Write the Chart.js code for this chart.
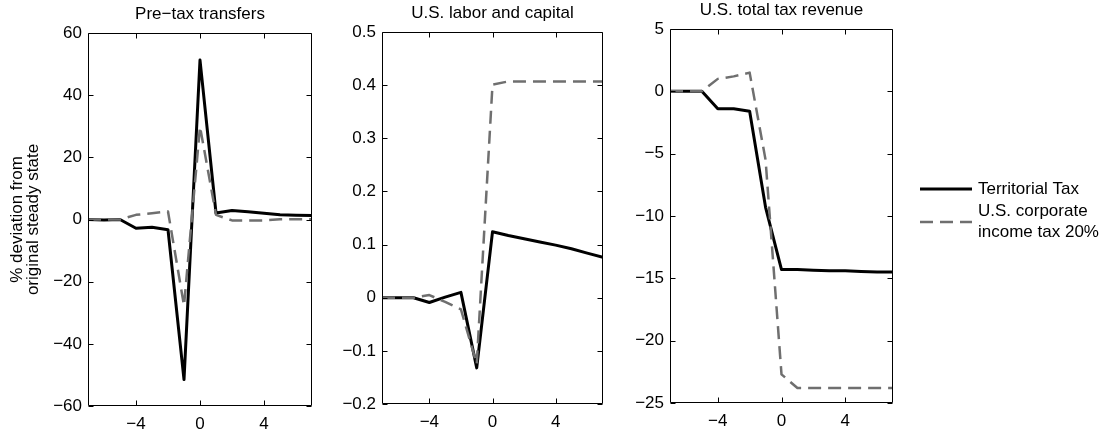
<!DOCTYPE html>
<html>
<head>
<meta charset="utf-8">
<script src="https://cdn.jsdelivr.net/npm/chart.js@4.4.1/dist/chart.umd.min.js"></script>
<style>
  html, body { margin: 0; padding: 0; background: #fff; }
  #wrap { position: relative; width: 1107px; height: 434px; overflow: hidden; background: #fff; }
  #wrap canvas { position: absolute; top: 0; }
</style>
</head>
<body>
<div id="wrap">
  <canvas id="transfers" width="330" height="434" style="left:0px"></canvas>
  <canvas id="laborCapital" width="290" height="434" style="left:330px"></canvas>
  <canvas id="taxRevenue" width="487" height="434" style="left:620px"></canvas>
</div>
<script>
// Periods relative to the reform date
const periods = [-7, -6, -5, -4, -3, -2, -1, 0, 1, 2, 3, 4, 5, 6, 7];
const xTickValues = [-4, 0, 4];

const seriesLabels = ['Territorial Tax', ['U.S. corporate', 'income tax 20%']];
const panelTitles = ['Pre\u2212tax transfers', 'U.S. labor and capital', 'U.S. total tax revenue'];
const yAxisLabel = ['% deviation from', 'original steady state'];

// Pre-tax transfers (% deviation)
const transfersTerritorial = [0, -0.2, 0, -2.8, -2.5, -3.3, -51.5, 51.3, 2.1, 2.9, 2.5, 2.0, 1.5, 1.4, 1.3];
const transfersCorporate20 = [0, 0, 0, 1.5, 2.0, 2.6, -27.7, 29.9, 1.5, -0.3, -0.3, -0.3, 0.05, 0.1, 0.1];
const transfersTicks = [-60, -40, -20, 0, 20, 40, 60];

// U.S. labor and capital (% deviation)
const laborTerritorial = [0, 0, 0, -0.009, 0.001, 0.010, -0.132, 0.124, 0.117, 0.111, 0.105, 0.099, 0.092, 0.084, 0.076];
const laborCorporate20 = [0, 0, 0, 0.005, -0.008, -0.022, -0.125, 0.401, 0.407, 0.407, 0.407, 0.407, 0.407, 0.407, 0.407];
const laborTicks = [-0.2, -0.1, 0, 0.1, 0.2, 0.3, 0.4, 0.5];

// U.S. total tax revenue (% deviation)
const revenueTerritorial = [0, 0, 0, -1.4, -1.4, -1.6, -9.3, -14.3, -14.3, -14.35, -14.4, -14.4, -14.45, -14.5, -14.5];
const revenueCorporate20 = [0, 0, 0, 1.0, 1.2, 1.5, -5.5, -22.7, -23.8, -23.8, -23.8, -23.8, -23.8, -23.8, -23.8];
const revenueTicks = [-25, -20, -15, -10, -5, 0, 5];

const FONT = '"Liberation Sans", Arial, Helvetica, sans-serif';
const FONT_SIZE = 17;

function fmtTick(v) {
  const s = Number.isInteger(v) ? String(v) : v.toFixed(1);
  return s.replace('-', '\u2212');
}

// Boxed axes with inward tick marks on all four sides, panel title,
// optional rotated y label and an optional legend.
const boxedAxes = {
  id: 'boxedAxes',
  afterDatasetsDraw(chart, args, opts) {
    const { ctx, chartArea: a, scales } = chart;
    const L = Math.round(a.left) + 0.5, R = Math.round(a.right) - 0.5;
    const T = Math.round(a.top) + 0.5, B = Math.round(a.bottom) - 0.5;
    const tl = 5;
    ctx.save();
    ctx.strokeStyle = '#000';
    ctx.lineWidth = 1;
    ctx.beginPath();
    ctx.rect(L, T, R - L, B - T);
    xTickValues.forEach(v => {
      const px = Math.round(scales.x.getPixelForValue(v)) + 0.5;
      ctx.moveTo(px, B); ctx.lineTo(px, B - tl);
      ctx.moveTo(px, T); ctx.lineTo(px, T + tl);
    });
    opts.yTicks.forEach(v => {
      const py = Math.round(scales.y.getPixelForValue(v)) + 0.5;
      ctx.moveTo(L, py); ctx.lineTo(L + tl, py);
      ctx.moveTo(R, py); ctx.lineTo(R - tl, py);
    });
    ctx.stroke();

    ctx.fillStyle = '#000';
    ctx.font = FONT_SIZE + 'px ' + FONT;
    ctx.textAlign = 'center';
    ctx.textBaseline = 'middle';
    ctx.fillText(opts.title, (a.left + a.right) / 2, a.top - opts.titleGap);

    if (opts.yLabel) {
      ctx.save();
      ctx.translate(opts.yLabelX, (a.top + a.bottom) / 2);
      ctx.rotate(-Math.PI / 2);
      opts.yLabel.forEach((line, i) => ctx.fillText(line, 0, i * opts.yLabelGap));
      ctx.restore();
    }

    if (opts.legend) {
      const lg = opts.legend;
      chart.data.datasets.forEach((ds, i) => {
        const y = lg.rows[i];
        ctx.save();
        ctx.strokeStyle = ds.borderColor;
        ctx.lineWidth = ds.borderWidth;
        ctx.setLineDash(ds.borderDash || []);
        ctx.beginPath();
        ctx.moveTo(lg.x0, y); ctx.lineTo(lg.x1, y);
        ctx.stroke();
        ctx.restore();
        ctx.textAlign = 'left';
        const lines = Array.isArray(ds.label) ? ds.label : [ds.label];
        const first = y - (lines.length - 1) * lg.lineGap / 2;
        lines.forEach((t, j) => ctx.fillText(t, lg.textX, first + j * lg.lineGap));
      });
    }
    ctx.restore();
  }
};

function makePanel(id, solid, dashed, yTicks, geo, extra) {
  const toPoints = arr => periods.map((p, i) => ({ x: p, y: arr[i] }));
  const ctx = document.getElementById(id);
  return new Chart(ctx, {
    type: 'line',
    data: {
      datasets: [
        {
          label: seriesLabels[0],
          data: toPoints(solid),
          borderColor: '#000000',
          borderWidth: 3,
          borderJoinStyle: 'round',
          pointRadius: 0,
          tension: 0,
          order: 1
        },
        {
          label: seriesLabels[1],
          data: toPoints(dashed),
          borderColor: '#6f6f6f',
          borderWidth: 2.5,
          borderDash: [13, 7],
          borderJoinStyle: 'round',
          pointRadius: 0,
          tension: 0,
          order: 0
        }
      ]
    },
    options: {
      responsive: false,
      animation: false,
      devicePixelRatio: 1,
      events: [],
      layout: { padding: { left: 0, right: geo.right, top: geo.top, bottom: 0 } },
      plugins: {
        legend: { display: false },
        tooltip: { enabled: false },
        title: { display: false },
        boxedAxes: Object.assign({ yTicks: yTicks, title: geo.title, titleGap: 19 }, extra || {})
      },
      scales: {
        x: {
          type: 'linear',
          min: -7,
          max: 7,
          grid: { display: false, drawTicks: false },
          border: { display: false },
          afterBuildTicks: s => { s.ticks = xTickValues.map(v => ({ value: v })); },
          afterFit: s => { s.height = geo.xHeight; },
          ticks: {
            color: '#000',
            padding: 8,
            font: { family: FONT, size: FONT_SIZE },
            callback: v => fmtTick(v),
            maxRotation: 0
          }
        },
        y: {
          type: 'linear',
          min: yTicks[0],
          max: yTicks[yTicks.length - 1],
          grid: { display: false, drawTicks: false },
          border: { display: false },
          afterBuildTicks: s => { s.ticks = yTicks.map(v => ({ value: v })); },
          afterFit: s => { s.width = geo.yWidth; },
          ticks: {
            color: '#000',
            padding: 6,
            font: { family: FONT, size: FONT_SIZE },
            callback: v => fmtTick(v)
          }
        }
      }
    },
    plugins: [boxedAxes]
  });
}

makePanel('transfers', transfersTerritorial, transfersCorporate20, transfersTicks,
  { title: panelTitles[0], yWidth: 88, right: 18, top: 33, xHeight: 28 },
  { yLabel: yAxisLabel, yLabelX: 17, yLabelGap: 16 });

makePanel('laborCapital', laborTerritorial, laborCorporate20, laborTicks,
  { title: panelTitles[1], yWidth: 52, right: 17, top: 32, xHeight: 30 });

makePanel('taxRevenue', revenueTerritorial, revenueCorporate20, revenueTicks,
  { title: panelTitles[2], yWidth: 50, right: 214, top: 29, xHeight: 31 },
  { legend: { x0: 300, x1: 352, textX: 358, rows: [189, 222], lineGap: 21 } });
</script>
</body>
</html>
